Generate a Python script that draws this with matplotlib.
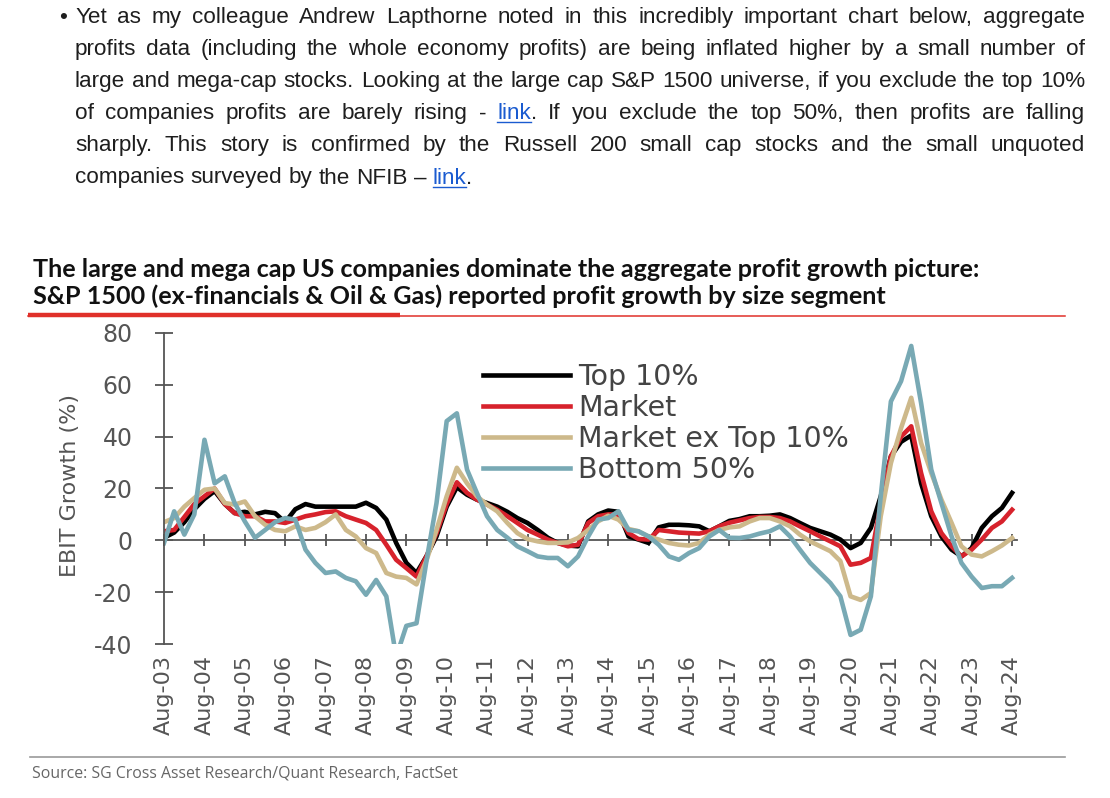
import numpy as np
import pandas as pd
import matplotlib
matplotlib.use('Agg')
import matplotlib.pyplot as plt
import matplotlib.dates as mdates
from matplotlib.lines import Line2D

plt.rcParams['axes.unicode_minus'] = False

# quarterly readings, Aug-03 .. Aug-24 (Aug, Nov, Feb, May)
dates = pd.date_range('2003-08-01', periods=85, freq='3MS')

top10 = [1, 3, 7, 12,
         16, 19, 14, 10.5,
         11, 10, 11, 10.5,
         7, 12, 14, 13,
         13, 13, 13, 13,
         14.5, 12.5, 8, -1,
         -8.7, -12.6, -6, 1.5,
         13, 20.5, 17.6, 15.7,
         14.4, 13, 11, 8.6,
         6.7, 4, 1, -1,
         -2, -2.3, 7.3, 10,
         11.5, 11, 1.5, 0.3,
         -1, 5, 6, 6,
         5.8, 5.4, 3.5, 5.4,
         7.5, 8.2, 9.3, 9.3,
         9.5, 10, 8.6, 6.7,
         4.8, 3.5, 2.2, 0.3,
         -3, -1, 4.8, 17,
         32.4, 38, 40.5, 22,
         9.3, 1.5, -3.6, -6.2,
         -3, 4.8, 9.3, 12.5,
         18.3]

market = [3.5, 4, 9, 14,
          17, 20, 14, 10.5,
          9.3, 9.3, 7.3, 7.3,
          6.7, 8, 9.3, 10,
          10.9, 11.2, 9.3, 8,
          6.7, 4, -1.7, -7.5,
          -10.7, -14, -6, 2.8,
          14, 22.4, 18.3, 15.7,
          13.8, 11.8, 9.3, 6.7,
          4, 2.2, 0.3, -1,
          -2.3, -1.7, 6.7, 9.3,
          10, 10, 2.8, 0.5,
          0.3, 4, 3.5, 3,
          2.8, 2.6, 3.5, 5.4,
          6.8, 7.7, 8.6, 9,
          9, 8.6, 7.3, 5.4,
          3.5, 1.5, -0.4, -2.3,
          -9.4, -8.7, -6.8, 14,
          32.4, 40, 44, 26,
          11.2, 2.8, -2.3, -6.2,
          -3.6, 0.3, 4.8, 7.3,
          11.8]

market_ex_top10 = [7, 8.6, 13, 16.3,
                   19.5, 20, 14.4, 13.8,
                   15, 9.3, 6, 4,
                   3.5, 5.4, 4, 4.8,
                   7, 10, 4, 1.5,
                   -3, -4.9, -12.6, -14,
                   -14.5, -17, -7.5, 4,
                   17, 28, 22, 17,
                   13.8, 11.2, 6.7, 2.8,
                   0.5, -0.4, -1, -1,
                   -0.8, 0.9, 4, 7.3,
                   9.5, 8, 4.4, 3.5,
                   1.5, 0.3, -1, -1.7,
                   -2, -1, 2.2, 4,
                   5, 5.4, 7.3, 8.6,
                   8.6, 7.3, 5.4, 2.2,
                   -0.4, -2.3, -4.2, -8,
                   -21.6, -23, -20.3, 9.3,
                   29.8, 43.3, 55, 37.6,
                   26, 15.7, 6.7, -2.3,
                   -5.5, -6.2, -4.2, -2,
                   0.9]

bottom50 = [-1, 11.2, 2.2, 10,
            38.8, 22, 24.7, 14.4,
            7.3, 1, 4, 7,
            8.6, 8, -3.6, -8.7,
            -12.6, -12, -14.5, -15.8,
            -21, -15.3, -21.6, -45,
            -33, -32, -7.5, 14.4,
            46, 49, 27.3, 18.3,
            9.3, 4, 1, -2.3,
            -4.2, -6.2, -6.8, -6.8,
            -10, -6.2, 1.5, 8,
            8.6, 11.2, 4, 3.5,
            1.5, -1.7, -6.2, -7.5,
            -4.9, -3, 1.5, 4,
            1, 0.9, 1.5, 2.6,
            3.5, 5.4, 1.5, -3.6,
            -8.7, -12.6, -16.5, -21.6,
            -36.5, -34.5, -21.6, 17,
            53.6, 61.4, 75, 53,
            27.3, 14.4, 1.5, -8.7,
            -14, -18.4, -17.7, -17.7,
            -14.5]

series_names = ['Top 10%', 'Market', 'Market ex Top 10%', 'Bottom 50%']
series_colors = ['#000000', '#d7222c', '#cdb98b', '#78a9b4']

tick_dates = pd.date_range('2003-08-01', '2024-08-01', freq='12MS')
tick_labels = ['Aug-%02d' % (d.year % 100) for d in tick_dates]
yticks = [-40, -20, 0, 20, 40, 60, 80]

para_lines = [
    'Yet as my colleague Andrew Lapthorne noted in this incredibly important chart below, aggregate',
    'profits data (including the whole economy profits) are being inflated higher by a small number of',
    'large and mega-cap stocks. Looking at the large cap S&P 1500 universe, if you exclude the top 10%',
    'of companies profits are barely rising - link. If you exclude the top 50%, then profits are falling',
    'sharply. This story is confirmed by the Russell 200 small cap stocks and the small unquoted',
    'companies surveyed by the NFIB \u2013 link.',
]
title_lines = [
    'The large and mega cap US companies dominate the aggregate profit growth picture:',
    'S&P 1500 (ex-financials & Oil & Gas) reported profit growth by size segment',
]
source_text = 'Source: SG Cross Asset Research/Quant Research, FactSet'

W, H = 1110, 798
fig = plt.figure(figsize=(W / 100, H / 100), dpi=100)


def fx(px):
    return px / W


def fy(py):
    return 1 - py / H


GREY = '#555555'

# ---- chart
x = mdates.date2num(dates)
xt = mdates.date2num(tick_dates)
x0 = mdates.date2num(pd.Timestamp('2003-08-01'))
x1 = mdates.date2num(pd.Timestamp('2024-09-15'))

ax = fig.add_axes([fx(164), fy(644), fx(40.38 * (x1 - x0) / 365.25), (644 - 333) / H])
for vals, name, col in zip([top10, market, market_ex_top10, bottom50], series_names, series_colors):
    ax.plot(x, vals, color=col, lw=3.3, label=name, solid_joinstyle='round')
ax.set_xlim(x0, x1)
ax.set_ylim(-40, 80)

for s in ['top', 'right', 'bottom']:
    ax.spines[s].set_visible(False)
ax.spines['left'].set_color(GREY)
ax.spines['left'].set_linewidth(1.3)

ax.set_yticks(yticks)
ax.tick_params(axis='y', direction='inout', length=13, width=1.3, color=GREY,
               labelsize=17, labelcolor=GREY, pad=16)
ax.set_xticks(xt)
ax.set_xticklabels(tick_labels, rotation=90)
ax.tick_params(axis='x', length=0, pad=8, labelsize=16, labelcolor=GREY)

# zero line carrying the yearly ticks
zero = ax.secondary_xaxis(1 / 3)
zero.set_xticks(xt)
zero.tick_params(axis='x', direction='inout', length=9, width=1.3, color=GREY,
                 labelbottom=False, labeltop=False)
for s in zero.spines.values():
    s.set_color(GREY)
    s.set_linewidth(1.3)

ax.set_ylabel('EBIT Growth (%)', fontsize=16, color=GREY)
ax.yaxis.set_label_coords(-0.098, 0.51)

leg = ax.legend(loc='upper left', bbox_to_anchor=(0.374, 0.9025), frameon=False,
                fontsize=20.5, handlelength=3.05, handletextpad=0.3, labelspacing=0.1,
                borderaxespad=0, borderpad=0)
for t in leg.get_texts():
    t.set_color('#444444')

# ---- text around the chart
fig.canvas.draw()
rend = fig.canvas.get_renderer()


def text_width(s, **kw):
    t = fig.text(0, 0, s, **kw)
    w = t.get_window_extent(rend).width
    t.remove()
    return w


para_kw = dict(family='Liberation Sans', size=16.2, color='#1e1e1e')
link_col = '#1a5bd0'
left_px, right_px = 75, 1085
fig.text(fx(59), fy(23), '\u2022', va='baseline', **para_kw)
for i, line in enumerate(para_lines):
    base = 23 + 32.1 * i
    words = line.split(' ')
    widths = [text_width(w_, **para_kw) for w_ in words]
    if i < len(para_lines) - 1:
        gap = (right_px - left_px - sum(widths)) / (len(words) - 1)
    else:
        gap = text_width('a b', **para_kw) - text_width('ab', **para_kw)
    xp = left_px
    for w_, wd in zip(words, widths):
        if w_.startswith('link'):
            lw_ = text_width('link', **para_kw)
            kw = dict(para_kw, color=link_col)
            fig.text(fx(xp), fy(base), 'link', va='baseline', **kw)
            fig.add_artist(Line2D([fx(xp), fx(xp + lw_)], [fy(base + 3), fy(base + 3)],
                                  color=link_col, lw=1.0))
            if len(w_) > 4:
                fig.text(fx(xp + lw_), fy(base), w_[4:], va='baseline', **para_kw)
        else:
            fig.text(fx(xp), fy(base), w_, va='baseline', **para_kw)
        xp += wd + gap

# title, fitted to the reference width
title_kw = dict(family='Lato', weight='bold', color='#111111')
tw = text_width(title_lines[0], size=16, **title_kw)
tsize = 16 * 952 / tw
fig.text(fx(33), fy(277), title_lines[0], size=tsize, va='baseline', **title_kw)
fig.text(fx(33), fy(304), title_lines[1], size=tsize, va='baseline', **title_kw)
fig.add_artist(Line2D([fx(28), fx(1065)], [fy(316), fy(316)], color='#e0302a', lw=1.1))
fig.add_artist(Line2D([fx(28), fx(400)], [fy(314.5), fy(314.5)], color='#e0302a', lw=3.2,
                      solid_capstyle='butt'))

# source line
fig.add_artist(Line2D([fx(30), fx(1065)], [fy(757), fy(757)], color='#9a9a9a', lw=1.2))
src_kw = dict(family='Open Sans', color='#666666')
sw = text_width(source_text, size=11, **src_kw)
fig.text(fx(32), fy(778), source_text, size=11 * 426 / sw, va='baseline', **src_kw)

fig.savefig('out.png', dpi=100)
